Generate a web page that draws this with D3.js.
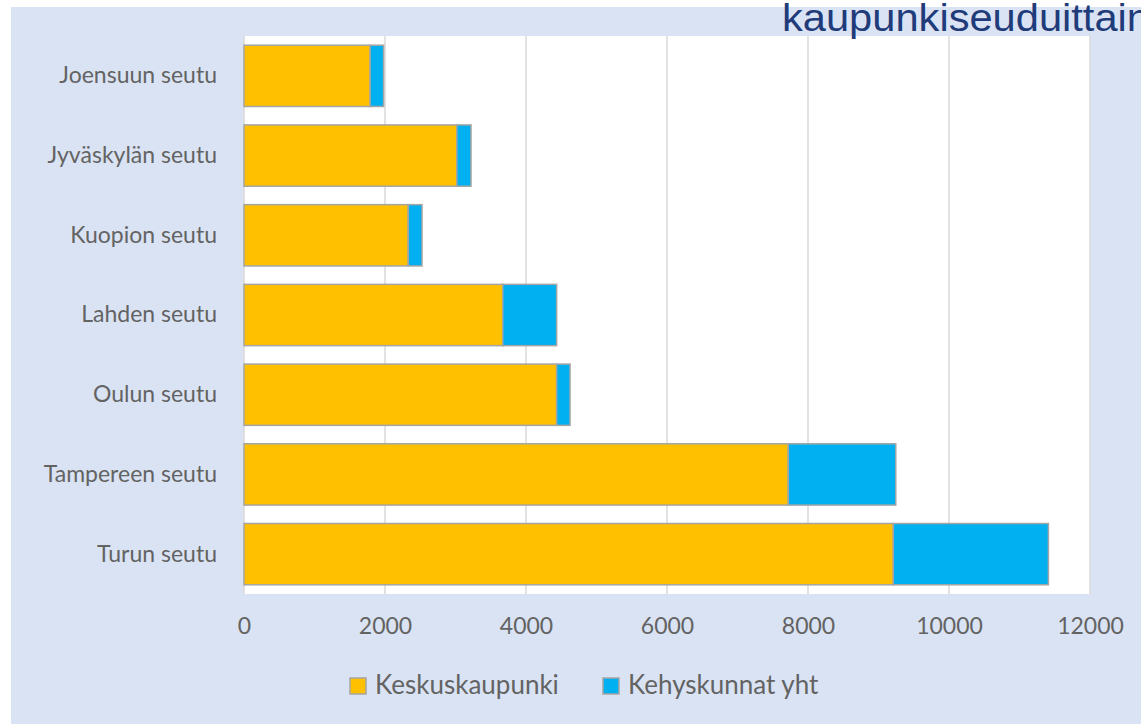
<!DOCTYPE html>
<html>
<head>
<meta charset="utf-8">
<script src="https://cdn.jsdelivr.net/npm/d3@7"></script>
<style>
    body { margin: 0; background: white; }
    svg { display: block; }
</style>
</head>
<body>
<div id="mainViewDiv"></div>
<script>

// data, top bar first
let regions = ["Joensuun seutu", "Jyväskylän seutu", "Kuopion seutu", "Lahden seutu",
               "Oulun seutu", "Tampereen seutu", "Turun seutu"];
let keskuskaupunki = [1790, 3020, 2330, 3670, 4435, 7720, 9210];
let kehyskunnat = [190, 200, 195, 765, 190, 1525, 2200];
let seriesNames = ["Keskuskaupunki", "Kehyskunnat yht"];
let seriesColors = ["#ffc000", "#00b0f0"];
let xTicks = [0, 2000, 4000, 6000, 8000, 10000, 12000];
let titleText = "kaupunkiseuduittain";

let width = 1141, height = 724;
let plot = {left: 244, right: 1090, top: 36, bottom: 594};
let labelFont = "Lato, 'Open Sans', sans-serif";
let textGray = "#636363";

let svg = d3.select("#mainViewDiv").append("svg")
            .attr("width", width)
            .attr("height", height);

svg.append("rect")
   .attr("x", 11).attr("y", 7)
   .attr("width", width - 11).attr("height", height - 7)
   .attr("fill", "#dae3f3");

svg.append("rect")
   .attr("x", plot.left).attr("y", plot.top)
   .attr("width", plot.right - plot.left)
   .attr("height", plot.bottom - plot.top)
   .attr("fill", "white");

let x = d3.scaleLinear()
          .domain([0, 12000])
          .range([plot.left, plot.right]);

let y = d3.scaleBand()
          .domain(regions)
          .range([plot.top, plot.bottom])
          .paddingInner(0.231)
          .paddingOuter(0.1155);

// gridlines
svg.append("g").selectAll("line")
   .data(xTicks)
   .join("line")
   .attr("x1", d => x(d)).attr("x2", d => x(d))
   .attr("y1", plot.top).attr("y2", plot.bottom)
   .attr("stroke", "#d9d9d9")
   .attr("stroke-width", 1.5);

// stacked bars
let table = regions.map((r, i) => ({region: r, Keskuskaupunki: keskuskaupunki[i], "Kehyskunnat yht": kehyskunnat[i]}));
let stacked = d3.stack().keys(seriesNames)(table);

svg.append("g").selectAll("g")
   .data(stacked)
   .join("g")
   .attr("fill", (d, i) => seriesColors[i])
   .selectAll("rect")
   .data(d => d)
   .join("rect")
   .attr("x", d => x(d[0]))
   .attr("width", d => x(d[1]) - x(d[0]))
   .attr("y", d => y(d.data.region))
   .attr("height", y.bandwidth())
   .attr("stroke", "#a5a5a5")
   .attr("stroke-width", 1.5);

// category axis
let yAxis = svg.append("g")
               .attr("transform", "translate(" + (plot.left - 27) + ",0)")
               .call(d3.axisLeft(y).tickSize(0).tickPadding(0));
yAxis.select(".domain").remove();
yAxis.selectAll("text")
     .attr("fill", textGray)
     .style("font", "400 23px " + labelFont);

// value axis
let xAxis = svg.append("g")
               .attr("transform", "translate(0," + plot.bottom + ")")
               .call(d3.axisBottom(x).tickValues(xTicks).tickFormat(d3.format("d")).tickSize(0).tickPadding(24));
xAxis.select(".domain").remove();
xAxis.selectAll("text")
     .attr("fill", textGray)
     .style("font", "400 23px " + labelFont);

// legend
let legendX = [350, 603];
let legend = svg.append("g").selectAll("g")
                .data(seriesNames)
                .join("g")
                .attr("transform", (d, i) => "translate(" + legendX[i] + ",678)");
legend.append("rect")
      .attr("width", 16).attr("height", 16)
      .attr("fill", (d, i) => seriesColors[i])
      .attr("stroke", "#a5a5a5")
      .attr("stroke-width", 1.5);
legend.append("text")
      .text(d => d)
      .attr("x", 25).attr("y", 16)
      .attr("fill", textGray)
      .style("font", "400 26px " + labelFont);

// title, cut off by the window edge as in the original
svg.append("text")
   .text(titleText)
   .attr("x", 782).attr("y", 31)
   .attr("fill", "#1f3b7a")
   .attr("textLength", 368)
   .attr("lengthAdjust", "spacingAndGlyphs")
   .style("font", "38px 'Liberation Sans', Arial, sans-serif");

</script>
</body>
</html>
